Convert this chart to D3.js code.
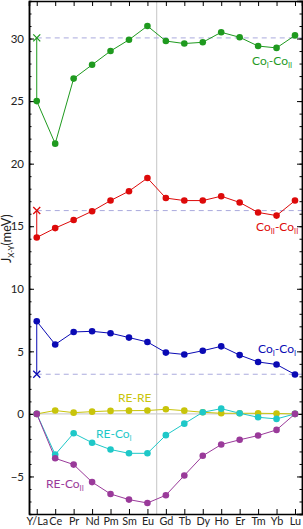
<!DOCTYPE html>
<html>
<head>
<meta charset="utf-8">
<script src="https://cdn.jsdelivr.net/npm/d3@7"></script>
<style>
  body { margin: 0; background: #fff; }
  svg text { font-family: Lato, "Noto Sans", sans-serif; }
</style>
</head>
<body>
<svg width="303" height="529"></svg>
<script>
// Data
const elements = ['Y/La', 'Ce', 'Pr', 'Nd', 'Pm', 'Sm', 'Eu', 'Gd', 'Tb', 'Dy', 'Ho', 'Er', 'Tm', 'Yb', 'Lu'];
const coICoII = [25.0, 21.6, 26.8, 27.9, 29.0, 29.9, 31.0, 29.8, 29.6, 29.7, 30.5, 30.1, 29.4, 29.25, 30.25];
const coIICoII = [14.1, 14.85, 15.5, 16.2, 17.05, 17.8, 18.85, 17.25, 17.05, 17.05, 17.4, 16.9, 16.1, 15.85, 17.05];
const coICoI = [7.4, 5.55, 6.55, 6.6, 6.45, 6.1, 5.75, 4.9, 4.75, 5.05, 5.4, 4.7, 4.15, 3.95, 3.15];
const reRe = [0, 0.27, 0.1, 0.18, 0.24, 0.26, 0.27, 0.37, 0.26, 0.13, 0.05, 0.05, 0.05, 0.03, 0];
const reCoI = [0, -3.25, -1.55, -2.3, -2.85, -3.15, -3.15, -1.7, -0.78, 0.13, 0.42, 0.05, -0.27, -0.4, 0];
const reCoII = [0, -3.55, -4.05, -5.45, -6.4, -6.85, -7.12, -6.5, -4.92, -3.35, -2.45, -2.07, -1.73, -1.28, 0];
// Reference values (X markers + dashed lines)
const refValues = [30.05, 16.25, 3.17];
const yTicks = [-5, 0, 5, 10, 15, 20, 25, 30];

const svg = d3.select('svg');
const margin = { left: 29, right: 1, top: 1, bottom: 15 };
const width = 303, height = 529;

const x = d3.scaleLinear()
  .domain([-0.42, 14.38])
  .range([margin.left, width - margin.right]);
const y = d3.scaleLinear()
  .domain([-8, 33])
  .range([height - margin.bottom, margin.top]);

const series = [
  { values: coICoII, color: '#1f9a1f', ref: refValues[0], label: ['Co', 'I', '-Co', 'II'], lx: 252, ly: 65 },
  { values: coIICoII, color: '#dd0a0a', ref: refValues[1], label: ['Co', 'II', '-Co', 'II'], lx: 256, ly: 231 },
  { values: coICoI, color: '#0a0ab4', ref: refValues[2], label: ['Co', 'I', '-Co', 'I'], lx: 258, ly: 353 },
  { values: reRe, color: '#c8c40a', label: ['RE-RE'], lx: 118, ly: 402 },
  { values: reCoI, color: '#1ec8c8', label: ['RE-Co', 'I'], lx: 96, ly: 438 },
  { values: reCoII, color: '#9a3a9a', label: ['RE-Co', 'II'], lx: 46, ly: 488 }
];

// Gray guide lines
svg.append('line')
  .attr('x1', x.range()[0]).attr('x2', x.range()[1])
  .attr('y1', y(0)).attr('y2', y(0))
  .attr('stroke', '#cfcfcf').attr('stroke-width', 1.2);
svg.append('line')
  .attr('x1', x(6.5)).attr('x2', x(6.5))
  .attr('y1', y.range()[0]).attr('y2', y.range()[1])
  .attr('stroke', '#cfcfcf').attr('stroke-width', 1.2);

// Dashed reference lines
series.filter(s => s.ref !== undefined).forEach(s => {
  svg.append('line')
    .attr('x1', x(0)).attr('x2', x.range()[1])
    .attr('y1', y(s.ref)).attr('y2', y(s.ref))
    .attr('stroke', '#aaaadd').attr('stroke-width', 1)
    .attr('stroke-dasharray', '5,4');
});

// Axes (ticks point inward)
const axisG = svg.append('g').attr('class', 'axes');
const leftAxis = axisG.append('g')
  .attr('transform', `translate(${margin.left},0)`)
  .call(d3.axisLeft(y).tickValues(yTicks).tickSizeInner(-5).tickSizeOuter(0).tickPadding(5));
axisG.append('g')
  .attr('transform', `translate(${margin.left},0)`)
  .call(d3.axisLeft(y).tickValues(d3.range(-7, 33)).tickSize(-2.5).tickFormat(''));
axisG.append('g')
  .attr('transform', `translate(${width - margin.right},0)`)
  .call(d3.axisRight(y).tickValues(yTicks).tickSize(-5).tickFormat(''));
axisG.append('g')
  .attr('transform', `translate(${width - margin.right},0)`)
  .call(d3.axisRight(y).tickValues(d3.range(-7, 33)).tickSize(-2.5).tickFormat(''));
const bottomAxis = axisG.append('g')
  .attr('transform', `translate(0,${height - margin.bottom})`)
  .call(d3.axisBottom(x).tickValues(d3.range(15)).tickSizeInner(-5).tickSizeOuter(0).tickPadding(3)
    .tickFormat(i => elements[i]));
axisG.append('g')
  .attr('transform', `translate(0,${margin.top})`)
  .call(d3.axisTop(x).tickValues(d3.range(15)).tickSize(-5).tickFormat(''));
axisG.selectAll('.domain').attr('stroke', '#000').attr('stroke-width', 1.5);
axisG.selectAll('text').attr('fill', '#222').style('font-family', 'Lato, sans-serif');
leftAxis.selectAll('text').attr('font-size', 11.5);
bottomAxis.selectAll('text').attr('font-size', 10.8);

// Series
const line = d3.line().x((d, i) => x(i)).y(d => y(d));
series.forEach(s => {
  svg.append('path')
    .datum(s.values)
    .attr('d', line)
    .attr('fill', 'none')
    .attr('stroke', s.color)
    .attr('stroke-width', 1);
  if (s.ref !== undefined) {
    svg.append('line')
      .attr('x1', x(0)).attr('x2', x(0))
      .attr('y1', y(s.values[0])).attr('y2', y(s.ref))
      .attr('stroke', s.color).attr('stroke-width', 1);
    const cx = x(0), cy = y(s.ref), k = 3.5;
    svg.append('path')
      .attr('d', `M${cx - k},${cy - k}L${cx + k},${cy + k}M${cx - k},${cy + k}L${cx + k},${cy - k}`)
      .attr('stroke', s.color).attr('stroke-width', 1.3);
  }
});
series.forEach(s => {
  svg.append('g')
    .selectAll('circle')
    .data(s.values)
    .enter()
    .append('circle')
    .attr('cx', (d, i) => x(i))
    .attr('cy', d => y(d))
    .attr('r', 3.3)
    .attr('fill', s.color);
});

// Series labels with subscripts
series.forEach(s => {
  const t = svg.append('text')
    .attr('x', s.lx).attr('y', s.ly)
    .attr('fill', s.color)
    .attr('font-size', 12);
  s.label.forEach((part, j) => {
    const sub = j % 2 === 1;
    t.append('tspan')
      .attr('font-size', sub ? 7.5 : 12)
      .attr('dy', sub ? 3 : (j > 0 ? -3 : 0))
      .text(part);
  });
});

// Y axis title
const yt = svg.append('text')
  .attr('transform', `translate(11,${y(14)}) rotate(-90)`)
  .attr('text-anchor', 'middle')
  .attr('font-size', 12.5)
  .attr('fill', '#222');
yt.append('tspan').text('J');
yt.append('tspan').attr('font-size', 8).attr('dy', 3).text('X-Y');
yt.append('tspan').attr('dy', -3).text('(meV)');
</script>
</body>
</html>
